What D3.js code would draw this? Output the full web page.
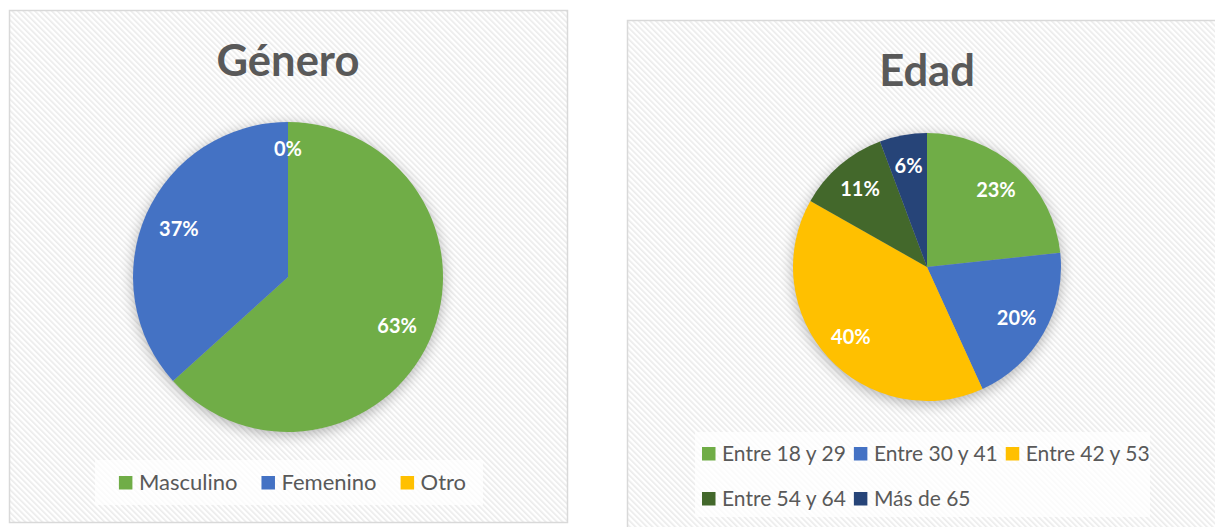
<!DOCTYPE html>
<html>
<head>
<meta charset="utf-8">
<script src="https://cdn.jsdelivr.net/npm/d3@7"></script>
<style>
    body { margin: 0; background: #ffffff; }
    svg { display: block; }
</style>
</head>
<body>
<div id="chart"></div>
<script>
// Datos
const generoLabels = ['Masculino', 'Femenino', 'Otro'];
const generoValues = [63.3, 36.7, 0];
const generoColors = ['#70AD47', '#4472C4', '#FFC000'];

const edadLabels = ['Entre 18 y 29', 'Entre 30 y 41', 'Entre 42 y 53', 'Entre 54 y 64', 'Más de 65'];
const edadValues = [23.3, 19.9, 40, 11.1, 5.7];
const edadColors = ['#70AD47', '#4472C4', '#FFC000', '#43682B', '#264478'];

const width = 1215;
const height = 527;
const font = 'Lato, "Open Sans", sans-serif';

const svg = d3.select('#chart')
    .append('svg')
    .attr('width', width)
    .attr('height', height);

const defs = svg.append('defs');

// Trama diagonal clara del fondo
const pattern = defs.append('pattern')
    .attr('id', 'stripes')
    .attr('patternUnits', 'userSpaceOnUse')
    .attr('width', 4)
    .attr('height', 4)
    .attr('patternTransform', 'rotate(-45)');
pattern.append('rect')
    .attr('width', 4).attr('height', 4)
    .attr('fill', '#ffffff');
pattern.append('rect')
    .attr('width', 1.6).attr('height', 4)
    .attr('fill', '#ebebeb');

// Sombra suave del pastel
const shadow = defs.append('filter')
    .attr('id', 'shadow')
    .attr('x', '-30%').attr('y', '-30%')
    .attr('width', '160%').attr('height', '160%');
shadow.append('feGaussianBlur')
    .attr('in', 'SourceAlpha')
    .attr('stdDeviation', 7);
shadow.append('feOffset')
    .attr('dx', 0).attr('dy', 3)
    .attr('result', 'blur');
shadow.append('feComponentTransfer')
    .append('feFuncA')
    .attr('type', 'linear')
    .attr('slope', 0.3);

function drawPanel(cfg) {
    const g = svg.append('g');

    g.append('rect')
        .attr('x', cfg.box[0]).attr('y', cfg.box[1])
        .attr('width', cfg.box[2]).attr('height', cfg.box[3])
        .attr('fill', 'url(#stripes)')
        .attr('stroke', '#d9d9d9')
        .attr('stroke-width', 1.5);

    g.append('text')
        .attr('x', cfg.cx)
        .attr('y', cfg.titleY)
        .attr('text-anchor', 'middle')
        .attr('fill', '#595959')
        .style('font-family', font)
        .style('font-weight', 'bold')
        .style('font-size', '43.5px')
        .text(cfg.title);

    const pie = d3.pie().sort(null).value(d => d);
    const arcs = pie(cfg.values);
    const arc = d3.arc().innerRadius(0).outerRadius(cfg.r);

    const pieG = g.append('g')
        .attr('transform', `translate(${cfg.cx},${cfg.cy})`);

    pieG.append('circle')
        .attr('r', cfg.r)
        .attr('fill', '#000')
        .attr('filter', 'url(#shadow)');

    pieG.selectAll('path')
        .data(arcs)
        .join('path')
        .attr('d', arc)
        .attr('fill', (d, i) => cfg.colors[i]);

    pieG.selectAll('.label')
        .data(arcs)
        .join('text')
        .attr('class', 'label')
        .attr('transform', d => {
            const a = (d.startAngle + d.endAngle) / 2;
            const lr = cfg.r * (d.value === 0 ? 0.83 : 0.77);
            return `translate(${Math.sin(a) * lr},${-Math.cos(a) * lr})`;
        })
        .attr('dy', '0.36em')
        .attr('text-anchor', 'middle')
        .attr('fill', '#ffffff')
        .style('font-family', font)
        .style('font-weight', 'bold')
        .style('font-size', '20px')
        .text(d => Math.round(d.value) + '%');

    // Leyenda
    const lb = cfg.legendBox;
    g.append('rect')
        .attr('x', lb[0]).attr('y', lb[1])
        .attr('width', lb[2]).attr('height', lb[3])
        .attr('fill', '#ffffff')
        .attr('fill-opacity', 0.75);

    const legend = g.append('g');
    const items = legend.selectAll('.item')
        .data(cfg.labels)
        .join('g')
        .attr('class', 'item');

    items.append('rect')
        .attr('width', 13.5).attr('height', 13.5)
        .attr('y', -14)
        .attr('fill', (d, i) => cfg.colors[i]);

    items.append('text')
        .attr('x', 20)
        .attr('fill', '#595959')
        .style('font-family', font)
        .style('font-size', cfg.legendSize)
        .text(d => d);

    const widths = [];
    items.select('text').each(function() {
        widths.push(20 + this.getComputedTextLength());
    });

    if (cfg.columns) {
        const colW = d3.max(widths) + cfg.gap;
        items.attr('transform', (d, i) =>
            `translate(${cfg.legendX + (i % cfg.columns) * colW},${cfg.legendY + Math.floor(i / cfg.columns) * cfg.rowH})`);
    } else {
        const total = d3.sum(widths) + cfg.gap * (widths.length - 1);
        let x = cfg.legendCx - total / 2;
        items.attr('transform', (d, i) => {
            const t = `translate(${x},${cfg.legendY})`;
            x += widths[i] + cfg.gap;
            return t;
        });
    }
}

drawPanel({
    box: [9.5, 10.5, 558, 512],
    title: 'Género',
    titleY: 76,
    cx: 288, cy: 277, r: 155,
    values: generoValues,
    labels: generoLabels,
    colors: generoColors,
    legendBox: [95, 460, 388, 45],
    legendCx: 292.5,
    legendY: 490,
    legendSize: '22px',
    gap: 24
});

drawPanel({
    box: [627.5, 20.5, 620, 520],
    title: 'Edad',
    titleY: 86,
    cx: 927, cy: 267, r: 134,
    values: edadValues,
    labels: edadLabels,
    colors: edadColors,
    legendBox: [695, 432, 455, 85],
    legendX: 702,
    legendY: 461,
    legendSize: '21px',
    rowH: 45,
    columns: 3,
    gap: 8
});
</script>
</body>
</html>
